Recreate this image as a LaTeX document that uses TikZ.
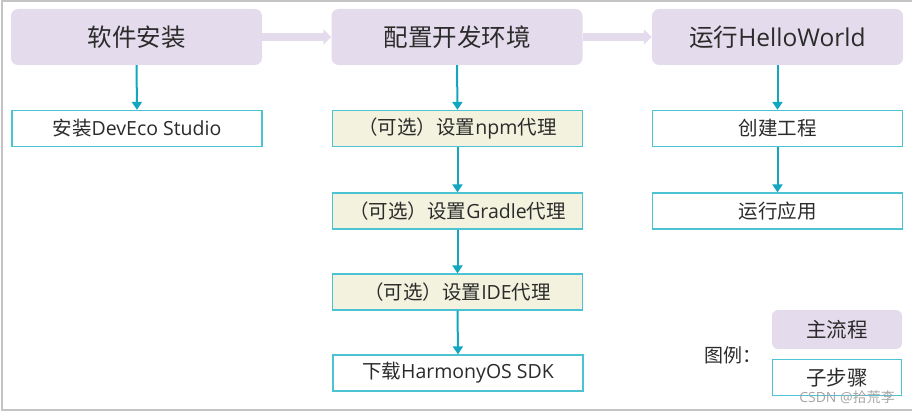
\documentclass[tikz,border=0pt]{standalone}
\usepackage{fontspec}
\setmainfont{Open Sans}
\newfontfamily\cjk{Noto Sans CJK SC}
\usetikzlibrary{arrows.meta}
\definecolor{lav}{HTML}{E4DCEC}
\definecolor{teal}{HTML}{12A7BE}
\definecolor{subb}{HTML}{4CC3D3}
\definecolor{yel}{HTML}{F2F2DE}
\definecolor{txt}{HTML}{2B2B2B}
\definecolor{frame}{HTML}{C4C4C4}
\tikzset{
  mainbox/.style={fill=lav, rounded corners=7pt, minimum width=251pt, minimum height=56pt, inner sep=0pt, text=txt, font=\fontsize{24.5}{28}\selectfont},
  subbox/.style={draw=subb, line width=1.3pt, fill=white, minimum width=250pt, minimum height=36pt, inner sep=0pt, text=txt, font=\fontsize{19.5}{22}\selectfont},
  optbox/.style={subbox, fill=yel},
  flow/.style={draw=teal, line width=2pt, -{Triangle[length=8pt,width=10pt]}},
  mainflow/.style={draw=lav, line width=8pt, -{Triangle[length=8pt,width=15pt]}, shorten >=0pt},
}
\begin{document}
\begin{tikzpicture}[x=1pt,y=-1pt]
\useasboundingbox (0,0) rectangle (912,412);
\draw[frame, line width=1.5pt] (914,1) -- (2,1) -- (2,410) -- (914,410);

\node[mainbox] (m1) at (136.5,37) {\cjk 软件安装};
\node[mainbox] (m2) at (457,37) {\cjk 配置开发环境};
\node[mainbox] (m3) at (777.5,37) {{\cjk 运行}HelloWorld};

\draw[mainflow] (m1.east) -- (m2.west);
\draw[mainflow] (m2.east) -- (m3.west);

\node[subbox] (s1) at (137,128.5) {{\cjk 安装}DevEco Studio};

\node[optbox] (n1) at (457.5,128.5) {{\cjk （可选）设置}npm{\cjk 代理}};
\node[optbox] (n2) at (457.5,211) {{\cjk （可选）设置}Gradle{\cjk 代理}};
\node[optbox] (n3) at (457.5,292) {{\cjk （可选）设置}IDE{\cjk 代理}};
\node[subbox] (n4) at (458,373) {{\cjk 下载}HarmonyOS SDK};

\node[subbox] (r1) at (777.5,128.5) {\cjk 创建工程};
\node[subbox] (r2) at (777.5,211) {\cjk 运行应用};

\draw[flow] (m1.south) -- (s1.north);
\draw[flow] (m2.south) -- (n1.north);
\draw[flow] (n1.south) -- (n2.north);
\draw[flow] (n2.south) -- (n3.north);
\draw[flow] (n3.south) -- (n4.north);
\draw[flow] (m3.south) -- (r1.north);
\draw[flow] (r1.south) -- (r2.north);

\node[mainbox, minimum width=130pt, minimum height=39pt, rounded corners=6pt, font=\fontsize{20.5}{23}\selectfont] (lm) at (837,329.5) {\cjk 主流程};
\node[subbox, minimum width=129pt, minimum height=36pt, font=\fontsize{20.5}{23}\selectfont] (ls) at (837,377.5) {\cjk 子步骤};
\node[text=txt, font=\fontsize{19}{22}\selectfont, inner sep=0pt] (lg) at (733,355) {\cjk 图例：};
\node[text=gray!70, font=\fontsize{14}{16}\selectfont, inner sep=0pt] (wm) at (847,397) {CSDN @{\cjk 拾荒李}};
\end{tikzpicture}
\end{document}
